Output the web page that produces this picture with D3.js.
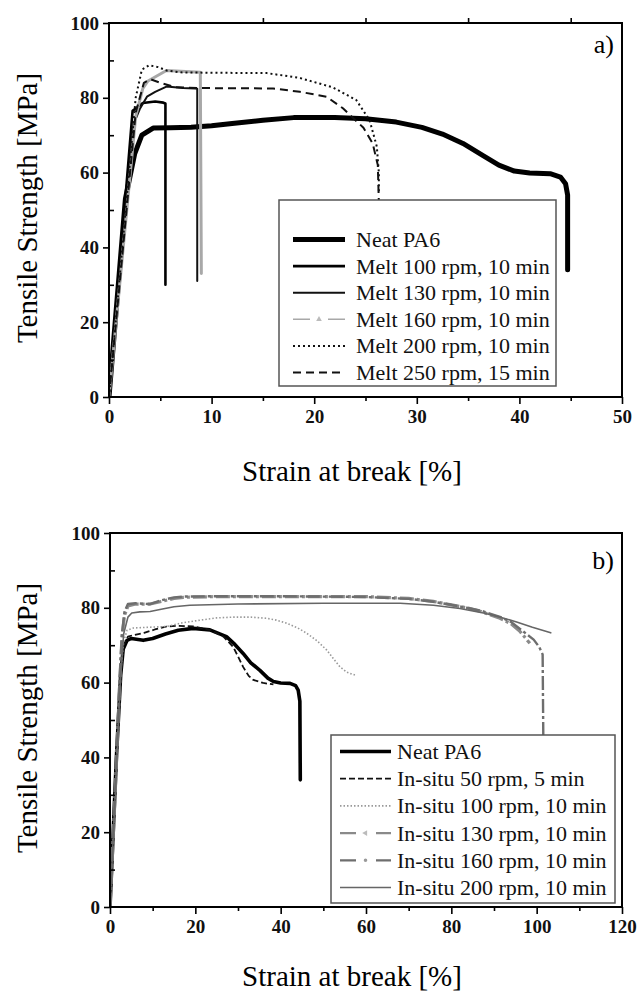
<!DOCTYPE html>
<html>
<head>
<meta charset="utf-8">
<script src="https://cdnjs.cloudflare.com/ajax/libs/d3/7.8.5/d3.min.js"></script>
<style>
body { margin: 0; background: #fff; }
svg { display: block; font-family: "Liberation Serif", "Times New Roman", serif; }
</style>
</head>
<body>
<div id="chart"></div>
<script>
// panel a) melt compounding, [strain %, stress MPa]
var neatA = [[0,0],[1.6,53],[2.5,65],[3.2,70],[4.3,71.9],[6,72],[8,72.1],[10,72.5],[12,73.1],[15,74],[18,74.7],[22,74.7],[25,74.4],[28,73.5],[30.5,72.1],[32.5,70.3],[34.5,67.8],[36.5,64.5],[38,62],[39.5,60.4],[41,59.9],[43,59.7],[44,58.8],[44.5,57],[44.7,54],[44.7,34]];
var melt100 = [[0,0],[2.3,76.5],[3.3,78.6],[4.5,79],[5.3,78.7],[5.5,78.5],[5.5,30]];
var melt130 = [[0,0],[2.4,73],[3,77],[3.7,80.3],[4.5,81.6],[5.6,83],[7.2,82.6],[8.4,82.5],[8.6,82.4],[8.6,31]];
var melt160 = [[0,0],[2.6,75],[3.3,82.5],[3.8,84.5],[5.6,87.3],[7,87.1],[8.9,86.8],[9.0,33]];
var melt200 = [[0,0],[2.6,80],[3.2,87.5],[3.9,88.7],[4.8,88.2],[5.6,87.3],[7,86.8],[10,86.7],[15.4,86.6],[18.6,85.3],[21.8,82.8],[24.1,79.4],[25.4,74],[26.1,67],[26.3,60],[26.3,55]];
var melt250 = [[0,0],[2.6,76],[3.4,84],[4,85],[5,84],[6.5,82.8],[9,82.6],[16,82.5],[18.6,81.6],[21.2,80.3],[22.8,77.2],[24.8,72],[25.7,67.8],[26.2,62],[26.3,52]];
var labelsA = ["Neat PA6", "Melt 100 rpm, 10 min", "Melt 130 rpm, 10 min", "Melt 160 rpm, 10 min", "Melt 200 rpm, 10 min", "Melt 250 rpm, 15 min"];

// panel b) in-situ polymerisation
var neatB = [[0,0],[1.5,40],[2.5,62],[3.1,69],[4,71.3],[5,71.8],[7.8,71.3],[10,71.8],[13,73],[16,74],[19.5,74.5],[23.4,74.1],[27.3,72.3],[29,70.5],[31.2,67.8],[33,65.3],[35.2,63.2],[37,61.2],[38.3,60.3],[40,59.9],[42.2,59.8],[43.5,59.2],[44.1,58],[44.5,55],[44.6,34]];
var situ50 = [[0,0],[2.5,62],[3.2,70],[4.2,72.3],[5.5,72.7],[8,73.3],[10.5,74.2],[13.3,75],[16,75.2],[19.5,75],[23.4,74.1],[26.6,72.3],[28.9,69.5],[30,67],[31.2,64.2],[32.5,61.8],[33.6,60.7],[35.9,59.9],[38.3,59.5]];
var situ100 = [[0,0],[2.5,63],[3.2,71],[4,74],[5.5,74.6],[9,74.8],[13.3,75],[17,76],[21.1,76.7],[25,77.3],[28.9,77.5],[33,77.5],[36.7,77.2],[39,76.7],[41.4,75.9],[44,74.6],[46.1,73.2],[48.5,71.2],[50.8,68.7],[52.5,66.2],[53.9,64.2],[55.5,62.8],[57.4,62]];
var situ130 = [[0,0],[1.2,30],[2.2,58],[2.8,72],[3.4,78],[4.2,80.5],[6,81],[9.4,81],[12,81.7],[15,82.5],[17.2,82.8],[25,83],[40,83],[60,83],[70,82.5],[75.8,81.7],[80,80.8],[83.6,80],[87,79],[91.4,77.2],[94,75.7],[96,73.8],[98.4,70.5]];
var situ160 = [[0,0],[1.2,31],[2.2,60],[2.8,73],[3.4,79],[4.2,81],[6,81.2],[9.4,81],[12,82],[15,82.8],[17.2,83],[25,83.1],[40,83.1],[60,82.9],[70,82.4],[75.8,81.6],[80,80.8],[83.6,80],[87,79.2],[91.4,77.6],[94,76.2],[96.5,74],[99.3,71.5],[100.6,69.5],[101.4,67.5],[101.6,39]];
var situ200 = [[0,0],[1.3,32],[2.4,60],[3.2,73],[4.2,77.5],[5.1,78.6],[7,78.9],[9.4,79],[12,79.6],[15,80.3],[18.7,80.7],[30,81],[50,81.2],[68,81.2],[75.8,80.7],[82,79.8],[87.5,78.6],[91.5,77.5],[95.3,76.2],[99,74.8],[103.3,73.3]];
var labelsB = ["Neat PA6", "In-situ 50 rpm, 5 min", "In-situ 100 rpm, 10 min", "In-situ 130 rpm, 10 min", "In-situ 160 rpm, 10 min", "In-situ 200 rpm, 10 min"];

var yTicks = [0, 20, 40, 60, 80, 100];
var yMinor = [10, 30, 50, 70, 90];

var W = 637, H = 992;
var svg = d3.select("#chart").append("svg")
	.attr("width", W)
	.attr("height", H);

function drawPanel(opt) {
	var x = d3.scaleLinear().domain(opt.xDomain).range([opt.left, opt.right]);
	var y = d3.scaleLinear().domain([0, 100]).range([opt.bottom, opt.top]);
	var g = svg.append("g");

	// curves
	var line = d3.line()
		.x(function(d) { return x(d[0]); })
		.y(function(d) { return y(d[1]); })
		.curve(d3.curveMonotoneX);
	var lineLin = d3.line()
		.x(function(d) { return x(d[0]); })
		.y(function(d) { return y(d[1]); });

	var clipId = "clip" + opt.name;
	g.append("clipPath").attr("id", clipId)
		.append("rect")
		.attr("x", opt.left).attr("y", opt.top)
		.attr("width", opt.right - opt.left).attr("height", opt.bottom - opt.top);

	var curves = g.append("g").attr("clip-path", "url(#" + clipId + ")");
	opt.series.forEach(function(s) {
		curves.append("path")
			.datum(s.data)
			.attr("fill", "none")
			.attr("stroke", s.color)
			.attr("stroke-width", s.width)
			.attr("stroke-dasharray", s.dash || null)
			.attr("stroke-linejoin", "round")
			.attr("stroke-linecap", s.dash ? "butt" : "round")
			.attr("d", lineLin);
	});

	// axes
	var fmt = d3.format("d");
	var xb = g.append("g").attr("transform", "translate(0," + opt.bottom + ")")
		.call(d3.axisBottom(x).tickValues(opt.xTicks).tickSize(7).tickPadding(6).tickFormat(fmt));
	var xbm = g.append("g").attr("transform", "translate(0," + opt.bottom + ")")
		.call(d3.axisBottom(x).tickValues(opt.xMinor).tickSize(4).tickFormat(""));
	var yl = g.append("g").attr("transform", "translate(" + opt.left + ",0)")
		.call(d3.axisLeft(y).tickValues(yTicks).tickSize(6).tickPadding(4).tickFormat(fmt));
	var ylm = g.append("g").attr("transform", "translate(" + opt.left + ",0)")
		.call(d3.axisLeft(y).tickValues(yMinor).tickSize(-5).tickFormat(""));
	var axes = [xb, xbm, yl, ylm];
	if (opt.topTicks) {
		var xt = g.append("g").attr("transform", "translate(0," + opt.top + ")")
			.call(d3.axisTop(x).tickValues(opt.xMinor).tickSize(5).tickFormat(""));
		axes.push(xt);
	}
	axes.forEach(function(a) {
		a.select(".domain").remove();
		a.selectAll(".tick line").attr("stroke", "#000").attr("stroke-width", 1.6);
		a.selectAll(".tick text")
			.attr("fill", "#111")
			.style("font-family", "'Liberation Serif', 'Times New Roman', serif")
			.style("font-size", "19px")
			.style("font-weight", "bold");
	});

	g.append("rect")
		.attr("x", opt.left).attr("y", opt.top)
		.attr("width", opt.right - opt.left).attr("height", opt.bottom - opt.top)
		.attr("fill", "none").attr("stroke", "#000").attr("stroke-width", 2);

	// titles
	g.append("text")
		.attr("x", opt.xTitleX).attr("y", opt.xTitleY)
		.attr("text-anchor", "middle")
		.style("font-size", "29px")
		.text("Strain at break [%]");
	g.append("text")
		.attr("transform", "translate(37," + ((opt.top + opt.bottom) / 2 - 2) + ") rotate(-90)")
		.attr("text-anchor", "middle")
		.style("font-size", "29px")
		.text("Tensile Strength [MPa]");
	g.append("text")
		.attr("x", opt.right - 8).attr("y", opt.tagY)
		.attr("text-anchor", "end")
		.style("font-size", "26px")
		.text(opt.tag);

	// legend
	var L = opt.legend;
	g.append("rect")
		.attr("x", L.x).attr("y", L.y)
		.attr("width", L.w).attr("height", L.h)
		.attr("fill", "#fff").attr("stroke", "#555").attr("stroke-width", 1.5);
	var item = g.selectAll(".leg" + opt.name)
		.data(opt.series)
		.enter().append("g")
		.attr("transform", function(d, i) { return "translate(0," + (L.base + i * L.step) + ")"; });
	item.append("line")
		.attr("x1", L.lx1).attr("x2", L.lx2)
		.attr("y1", -7.5).attr("y2", -7.5)
		.attr("stroke", function(d) { return d.color; })
		.attr("stroke-width", function(d) { return d.legWidth || d.width; })
		.attr("stroke-dasharray", function(d) { return d.legDash || d.dash || null; });
	item.filter(function(d) { return d.marker; })
		.append("path")
		.attr("transform", function(d) { return "translate(" + ((L.lx1 + L.lx2) / 2) + ",-7.5)"; })
		.attr("d", function(d) { return d3.symbol().type(d.marker === "dot" ? d3.symbolCircle : d3.symbolTriangle).size(d.marker === "dot" ? 10 : 14)(); })
		.attr("transform", function(d) {
			var rot = d.marker === "left" ? " rotate(-90)" : "";
			return "translate(" + ((L.lx1 + L.lx2) / 2) + ",-7.5)" + rot;
		})
		.attr("fill", function(d) { return d.markerColor || d.color; });
	item.append("text")
		.attr("x", L.tx)
		.attr("y", 0)
		.style("font-size", "22px")
		.attr("fill", "#111")
		.text(function(d) { return d.label; });
}

drawPanel({
	name: "a", tag: "a)", tagY: 53,
	left: 109, right: 622, top: 23, bottom: 397,
	xDomain: [0, 50], xTicks: [0, 10, 20, 30, 40, 50], xMinor: [5, 15, 25, 35, 45],
	topTicks: true,
	xTitleX: 352, xTitleY: 481,
	series: [
		{data: neatA, label: labelsA[0], color: "#000", width: 5},
		{data: melt100, label: labelsA[1], color: "#000", width: 2.6},
		{data: melt130, label: labelsA[2], color: "#111", width: 2},
		{data: melt160, label: labelsA[3], color: "#a8a8a8", width: 3, legWidth: 1.5, legDash: "17,18,17", marker: "up", markerColor: "#bbb"},
		{data: melt200, label: labelsA[4], color: "#111", width: 2, dash: "2,3"},
		{data: melt250, label: labelsA[5], color: "#111", width: 2, dash: "8,5"}
	],
	legend: {x: 279, y: 200, w: 277, h: 186, base: 247, step: 26.6, lx1: 293, lx2: 345, tx: 356}
});

drawPanel({
	name: "b", tag: "b)", tagY: 569,
	left: 110, right: 622, top: 533, bottom: 907,
	xDomain: [0, 120], xTicks: [0, 20, 40, 60, 80, 100, 120], xMinor: [10, 30, 50, 70, 90, 110],
	topTicks: false,
	xTitleX: 352, xTitleY: 986,
	series: [
		{data: neatB, label: labelsB[0], color: "#000", width: 3.6},
		{data: situ50, label: labelsB[1], color: "#111", width: 1.8, dash: "6,3"},
		{data: situ100, label: labelsB[2], color: "#999", width: 1.6, dash: "1.5,2"},
		{data: situ130, label: labelsB[3], color: "#8a8a8a", width: 3.2, dash: "14,3,3,3", legWidth: 2.2, legDash: "16,20,16", marker: "left", markerColor: "#bbb"},
		{data: situ160, label: labelsB[4], color: "#6e6e6e", width: 2.4, dash: "14,3,3,3", legWidth: 2.2, legDash: "16,20,16", marker: "dot", markerColor: "#999"},
		{data: situ200, label: labelsB[5], color: "#666", width: 1.6}
	],
	legend: {x: 331, y: 735, w: 284, h: 168, base: 759, step: 27.2, lx1: 340, lx2: 391, tx: 397}
});
</script>
</body>
</html>
